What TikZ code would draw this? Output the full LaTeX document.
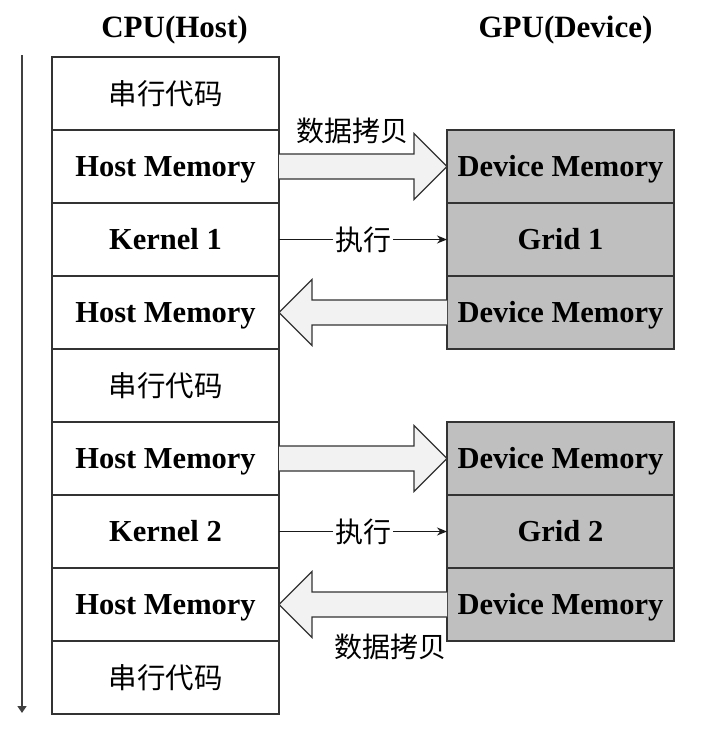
\documentclass[tikz,border=0pt]{standalone}
\usepackage{fontspec}
\setmainfont{Liberation Serif}
\newfontfamily\cjk{Noto Sans CJK SC}
\usetikzlibrary{arrows.meta, positioning}

\begin{document}
\begin{tikzpicture}[
	x=1pt, y=-1pt,
	node distance=0pt and 168pt,
	box/.style = {draw=black!80, line width=1.3pt, minimum width=227pt, minimum height=73pt,
		inner sep=0pt, outer sep=0pt, align=center, font=\fontsize{28.5}{30}\cjk},
	hbox/.style = {box, font=\fontsize{30.5}{32}\selectfont\bfseries, text height=19pt, text depth=0pt},
	gbox/.style = {hbox, fill=black!25},
	title/.style = {font=\fontsize{31}{32}\selectfont\bfseries},
	cn/.style = {font=\fontsize{28}{29}\cjk, inner sep=1pt},
	fat/.style = {draw=black!80, line width=1.2pt, fill=black!5, line join=miter},
	run/.style = {draw=black!90, line width=1.2pt, -{Stealth[length=10pt,width=8pt]}},
	sh/.style = {yshift=12.5pt}, sh-/.style = {yshift=-12.5pt},
	hd/.style = {yshift=33pt}, hd-/.style = {yshift=-33pt}
	]
	\useasboundingbox (0,0) rectangle (702,729);
%
	\node[title] (cpu) at (174.5,30) {CPU(Host)};
	\node[title] (gpu) at (565.5,30) {GPU(Device)};
%
	% host side
	\node[box] (c1) at (165.5,93.5) {串行代码};
	\node[hbox] (c2) [below=of c1] {Host Memory};
	\node[hbox] (c3) [below=of c2] {Kernel 1};
	\node[hbox] (c4) [below=of c3] {Host Memory};
	\node[box] (c5) [below=of c4] {串行代码};
	\node[hbox] (c6) [below=of c5] {Host Memory};
	\node[hbox] (c7) [below=of c6] {Kernel 2};
	\node[hbox] (c8) [below=of c7] {Host Memory};
	\node[box] (c9) [below=of c8] {串行代码};
%
	% device side
	\node[gbox] (g1) [right=of c2] {Device Memory};
	\node[gbox] (g2) [below=of g1] {Grid 1};
	\node[gbox] (g3) [below=of g2] {Device Memory};
	\node[gbox] (g4) [right=of c6] {Device Memory};
	\node[gbox] (g5) [below=of g4] {Grid 2};
	\node[gbox] (g6) [below=of g5] {Device Memory};
%
	% time line
	\coordinate (t1) at ([xshift=-30pt,yshift=2pt] c1.north west);
	\coordinate (t2) at ([xshift=-30pt,yshift=1pt] c9.south west);
	\draw[draw=black!75, line width=1.4pt, -{Triangle[length=7pt,width=9pt]}] (t1) -- (t2);
%
	% copy host -> device
	\draw[fat] ([sh] c2.east) -- ([xshift=-33pt,sh] g1.west) -- ([xshift=-33pt,hd] g1.west)
		-- (g1.west) -- ([xshift=-33pt,hd-] g1.west) -- ([xshift=-33pt,sh-] g1.west)
		-- ([sh-] c2.east);
	\draw[fat] ([sh] c6.east) -- ([xshift=-33pt,sh] g4.west) -- ([xshift=-33pt,hd] g4.west)
		-- (g4.west) -- ([xshift=-33pt,hd-] g4.west) -- ([xshift=-33pt,sh-] g4.west)
		-- ([sh-] c6.east);
%
	% copy device -> host
	\draw[fat] ([sh] g3.west) -- ([xshift=33pt,sh] c4.east) -- ([xshift=33pt,hd] c4.east)
		-- (c4.east) -- ([xshift=33pt,hd-] c4.east) -- ([xshift=33pt,sh-] c4.east)
		-- ([sh-] g3.west);
	\draw[fat] ([sh] g6.west) -- ([xshift=33pt,sh] c8.east) -- ([xshift=33pt,hd] c8.east)
		-- (c8.east) -- ([xshift=33pt,hd-] c8.east) -- ([xshift=33pt,sh-] c8.east)
		-- ([sh-] g6.west);
%
	\node[cn] (cp1) at ([xshift=73pt,yshift=-1pt] c2.north east) {数据拷贝};
	\node[cn] (cp2) at ([xshift=-57pt,yshift=-6pt] g6.south west) {数据拷贝};
%
	% launch kernels
	\draw[run] (c3.east) -- node[cn, fill=white, inner sep=2pt] (ex1) {执行} (g2.west);
	\draw[run] (c7.east) -- node[cn, fill=white, inner sep=2pt] (ex2) {执行} (g5.west);
\end{tikzpicture}
\end{document}
